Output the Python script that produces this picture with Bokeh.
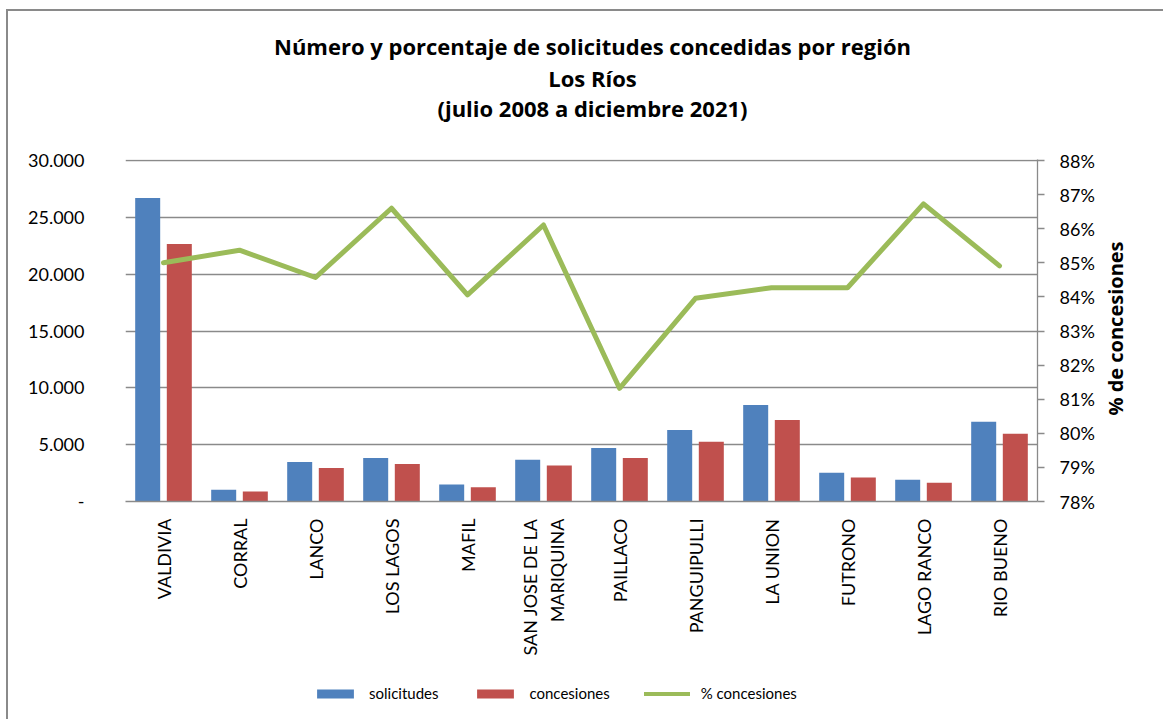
from math import pi
from bokeh.plotting import figure
from bokeh.layouts import column
from bokeh.models import (FactorRange, Range1d, LinearAxis, FixedTicker, Label,
                          Legend, LegendItem, ColumnDataSource)
from bokeh.transform import dodge
from bokeh.embed import file_html
from bokeh.resources import INLINE

# ---------------- data ----------------
categories = ["VALDIVIA", "CORRAL", "LANCO", "LOS LAGOS", "MAFIL",
              "SAN JOSE DE LA\nMARIQUINA", "PAILLACO", "PANGUIPULLI",
              "LA UNION", "FUTRONO", "LAGO RANCO", "RIO BUENO"]
solicitudes = [26700, 1030, 3470, 3820, 1500, 3670, 4700, 6280, 8480, 2520, 1910, 7010]
concesiones = [22650, 880, 2940, 3290, 1260, 3170, 3820, 5250, 7160, 2110, 1640, 5950]
pct_concesiones = [0.8500, 0.8537, 0.8457, 0.8660, 0.8406, 0.8611,
                   0.8132, 0.8396, 0.8427, 0.8427, 0.8673, 0.8491]

left_ticks = [0, 5000, 10000, 15000, 20000, 25000, 30000]
left_tick_labels = ["-", "5.000", "10.000", "15.000", "20.000", "25.000", "30.000"]
right_ticks = [0.78, 0.79, 0.80, 0.81, 0.82, 0.83, 0.84, 0.85, 0.86, 0.87, 0.88]
right_tick_labels = ["78%", "79%", "80%", "81%", "82%", "83%", "84%", "85%", "86%", "87%", "88%"]

title_lines = ["Número y porcentaje de solicitudes concedidas por región",
               "Los Ríos",
               "(julio 2008 a diciembre 2021)"]
right_axis_title = "% de concesiones"
series_names = ["solicitudes", "concesiones", "% concesiones"]

BLUE, RED, GREEN = "#4F81BD", "#C0504D", "#9BBB59"
GRAY = "#8A8A8A"
FONT = "Lato"
TFONT = "Open Sans"

src = ColumnDataSource(dict(cat=categories, sol=solicitudes, con=concesiones,
                            pct=pct_concesiones))

W, TH, H, LH = 1155, 130, 530, 48

# ---------------- title strip ----------------
tf = figure(width=W, height=TH, x_range=Range1d(0, 1), y_range=Range1d(0, 1),
            x_axis_type=None, y_axis_type=None, output_backend="svg",
            toolbar_location=None, min_border=0, outline_line_color=None,
            background_fill_color="white", border_fill_color="white")
tf.grid.visible = False
for txt, yy in zip(title_lines, [96, 64, 34]):
    tf.add_layout(Label(x=467, y=yy, x_units="screen", y_units="screen", text=txt,
                        text_align="center", text_baseline="alphabetic",
                        text_font=TFONT, text_font_style="bold",
                        text_font_size="22px", text_color="black"))

# ---------------- main chart ----------------
p = figure(width=W, height=H, x_range=FactorRange(*categories),
           y_range=Range1d(0, 30090), output_backend="svg", toolbar_location=None,
           min_border_left=117, min_border_right=126, min_border_top=18,
           min_border_bottom=170, outline_line_color=None,
           background_fill_color="white", border_fill_color="white")
p.x_range.range_padding = 0
p.extra_y_ranges = {"pct": Range1d(0.78, 0.8803)}

r1 = p.vbar(x=dodge("cat", -0.208, range=p.x_range), top="sol", width=0.329,
            source=src, fill_color=BLUE, line_color=None)
r2 = p.vbar(x=dodge("cat", 0.208, range=p.x_range), top="con", width=0.329,
            source=src, fill_color=RED, line_color=None)
r3 = p.line(x="cat", y="pct", source=src, y_range_name="pct", line_color=GREEN,
            line_width=5, line_join="round", line_cap="round")

# left axis
ya = p.yaxis[0]
ya.ticker = FixedTicker(ticks=left_ticks)
ya.major_label_overrides = {t: l for t, l in zip(left_ticks, left_tick_labels)}
ya.axis_line_color = None
ya.major_tick_line_color = None
ya.minor_tick_line_color = None
ya.major_tick_out = 0
ya.major_tick_in = 0
ya.major_label_standoff = 41
ya.major_label_text_font = FONT
ya.major_label_text_font_size = "18px"
ya.major_label_text_color = "black"

p.ygrid.ticker = FixedTicker(ticks=left_ticks)
p.ygrid.grid_line_color = GRAY
p.ygrid.grid_line_width = 1.3
p.xgrid.grid_line_color = None

# bottom axis
xa = p.xaxis[0]
xa.axis_line_color = GRAY
xa.axis_line_width = 1.5
xa.major_tick_line_color = None
xa.major_tick_out = 0
xa.major_tick_in = 0
xa.major_label_orientation = pi / 2
xa.major_label_standoff = 17
xa.major_label_text_font = FONT
xa.major_label_text_font_size = "18px"
xa.major_label_text_color = "black"

# right axis (ticks and labels)
ra = LinearAxis(y_range_name="pct", ticker=FixedTicker(ticks=right_ticks))
ra.major_label_overrides = {t: l for t, l in zip(right_ticks, right_tick_labels)}
ra.axis_line_color = GRAY
ra.axis_line_width = 1.3
ra.major_tick_line_color = GRAY
ra.major_tick_line_width = 1.3
ra.major_tick_out = 7
ra.major_tick_in = 0
ra.minor_tick_line_color = None
ra.major_label_standoff = 15
ra.major_label_text_font = FONT
ra.major_label_text_font_size = "18px"
ra.major_label_text_color = "black"
p.add_layout(ra, "right")

# right axis title: a label-only axis whose single tick label is the title,
# anchored so that the rotated text is centred on the plot height
title_anchor = 0.8052
rt = LinearAxis(y_range_name="pct", ticker=FixedTicker(ticks=[title_anchor]))
rt.major_label_overrides = {title_anchor: right_axis_title}
rt.axis_line_color = None
rt.major_tick_line_color = None
rt.minor_tick_line_color = None
rt.major_tick_out = 0
rt.major_tick_in = 0
rt.minor_tick_out = 0
rt.major_label_orientation = pi / 2
rt.major_label_standoff = 18
rt.major_label_text_font = TFONT
rt.major_label_text_font_style = "bold"
rt.major_label_text_font_size = "20px"
rt.major_label_text_color = "black"
p.add_layout(rt, "right")

# ---------------- legend strip ----------------
lf = figure(width=W, height=LH, x_range=FactorRange(*categories),
            y_range=Range1d(0, 1), x_axis_type=None, y_axis_type=None,
            output_backend="svg", toolbar_location=None, min_border=0,
            outline_line_color=None, background_fill_color="white",
            border_fill_color="white")
lf.grid.visible = False
l1 = lf.vbar(x="cat", top="sol", width=0.3, source=src, fill_color=BLUE,
             line_color=None, visible=False)
l2 = lf.vbar(x="cat", top="con", width=0.3, source=src, fill_color=RED,
             line_color=None, visible=False)
l3 = lf.line(x="cat", y="pct", source=src, line_color=GREEN, line_width=4,
             line_cap="round", visible=False)
legend = Legend(items=[LegendItem(label=series_names[0], renderers=[l1]),
                       LegendItem(label=series_names[1], renderers=[l2]),
                       LegendItem(label=series_names[2], renderers=[l3])],
                orientation="horizontal", location=(187, 17),
                glyph_width=46, glyph_height=11, label_standoff=11, spacing=34,
                padding=0, margin=0, border_line_color=None,
                background_fill_alpha=0, inactive_fill_alpha=0,
                label_text_font=FONT, label_text_font_size="15px",
                label_text_color="black")
lf.add_layout(legend)

layout = column(tf, p, lf, spacing=0)
layout.styles = {"margin-left": "6px", "margin-top": "9px",
                 "border-left": "2px solid #8A8A8A", "border-top": "2px solid #8A8A8A"}

open("out.html", "w").write(file_html(layout, INLINE))
